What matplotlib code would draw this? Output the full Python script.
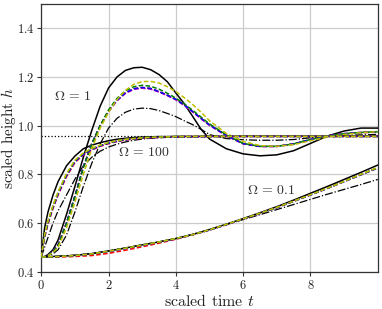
import numpy as np
import matplotlib
matplotlib.use('Agg')
import matplotlib.pyplot as plt

plt.rcParams['font.family'] = 'serif'
plt.rcParams['font.serif'] = ['cmr10']
plt.rcParams['mathtext.fontset'] = 'cm'
plt.rcParams['axes.formatter.use_mathtext'] = True

# время для Omega = 1 и Omega = 100
t_a = [0, 0.1, 0.2, 0.35, 0.5, 0.75, 1.0, 1.25, 1.5, 1.75, 2.0, 2.25, 2.5, 2.75, 3.0,
       3.25, 3.5, 3.75, 4.0, 4.25, 4.5, 4.75, 5.0, 5.5, 6.0, 6.5, 7.0, 7.5, 8.0, 8.5,
       9.0, 9.5, 10.0]

# Omega = 1
w1_black = [0.46, 0.462, 0.47, 0.49, 0.53, 0.635, 0.75, 0.87, 0.98, 1.08, 1.155, 1.2, 1.227,
            1.238, 1.24, 1.23, 1.21, 1.18, 1.134, 1.09, 1.038, 0.985, 0.945, 0.905, 0.884,
            0.876, 0.88, 0.897, 0.927, 0.957, 0.978, 0.99, 0.99]
w1_dashdot = [0.46, 0.461, 0.464, 0.473, 0.49, 0.55, 0.645, 0.75, 0.845, 0.925, 0.99, 1.03,
              1.055, 1.068, 1.072, 1.07, 1.062, 1.05, 1.037, 1.02, 1.004, 0.985, 0.963, 0.947,
              0.942, 0.94, 0.94, 0.943, 0.95, 0.956, 0.96, 0.962, 0.964]
w1_red = [0.46, 0.461, 0.466, 0.482, 0.51, 0.6, 0.71, 0.83, 0.925, 1.0, 1.06, 1.105, 1.135,
          1.152, 1.157, 1.153, 1.14, 1.125, 1.108, 1.085, 1.058, 1.03, 1.003, 0.96, 0.926,
          0.915, 0.915, 0.925, 0.943, 0.958, 0.967, 0.972, 0.974]
w1_magenta = [0.46, 0.461, 0.466, 0.482, 0.51, 0.6, 0.71, 0.83, 0.924, 0.998, 1.057, 1.102,
              1.132, 1.149, 1.154, 1.15, 1.138, 1.123, 1.106, 1.083, 1.056, 1.028, 1.001, 0.958,
              0.925, 0.914, 0.914, 0.924, 0.942, 0.957, 0.966, 0.971, 0.973]
w1_blue = [0.46, 0.461, 0.466, 0.482, 0.51, 0.6, 0.71, 0.83, 0.925, 1.0, 1.06, 1.105, 1.135,
           1.152, 1.157, 1.153, 1.14, 1.125, 1.108, 1.085, 1.058, 1.03, 1.003, 0.96, 0.926,
           0.915, 0.915, 0.925, 0.943, 0.958, 0.967, 0.972, 0.974]
w1_green = [0.46, 0.461, 0.466, 0.481, 0.508, 0.598, 0.708, 0.828, 0.924, 1.0, 1.065, 1.112,
            1.143, 1.16, 1.166, 1.162, 1.15, 1.133, 1.113, 1.09, 1.063, 1.035, 1.007, 0.962,
            0.927, 0.915, 0.915, 0.925, 0.943, 0.958, 0.967, 0.972, 0.975]
w1_yellow = [0.46, 0.461, 0.465, 0.478, 0.5, 0.58, 0.685, 0.8, 0.905, 0.99, 1.055, 1.107, 1.145,
             1.17, 1.181, 1.182, 1.175, 1.16, 1.14, 1.115, 1.087, 1.055, 1.02, 0.968, 0.935,
             0.918, 0.915, 0.922, 0.938, 0.953, 0.964, 0.971, 0.975]

# Omega = 100
w100_black = [0.46, 0.58, 0.645, 0.715, 0.77, 0.835, 0.875, 0.905, 0.92, 0.93, 0.938, 0.944,
              0.948, 0.951, 0.953, 0.954, 0.955, 0.955, 0.956, 0.956, 0.956, 0.956, 0.956,
              0.956, 0.957, 0.957, 0.957, 0.957, 0.957, 0.957, 0.957, 0.957, 0.957]
w100_dashdot = [0.46, 0.5, 0.54, 0.6, 0.65, 0.715, 0.78, 0.835, 0.87, 0.895, 0.912, 0.924,
                0.933, 0.94, 0.945, 0.948, 0.95, 0.952, 0.953, 0.954, 0.954, 0.955, 0.955,
                0.955, 0.955, 0.955, 0.955, 0.955, 0.955, 0.955, 0.955, 0.955, 0.955]
w100_red = [0.46, 0.54, 0.595, 0.66, 0.715, 0.79, 0.848, 0.88, 0.9, 0.915, 0.926, 0.935, 0.941,
            0.945, 0.948, 0.95, 0.952, 0.953, 0.954, 0.955, 0.955, 0.955, 0.956, 0.956, 0.956,
            0.956, 0.956, 0.956, 0.956, 0.956, 0.956, 0.956, 0.956]
w100_magenta = [0.46, 0.545, 0.6, 0.665, 0.72, 0.795, 0.852, 0.882, 0.902, 0.917, 0.928, 0.936,
                0.942, 0.946, 0.949, 0.951, 0.952, 0.953, 0.954, 0.955, 0.955, 0.955, 0.956,
                0.956, 0.956, 0.956, 0.956, 0.956, 0.956, 0.956, 0.956, 0.956, 0.956]
w100_blue = [0.46, 0.545, 0.6, 0.665, 0.72, 0.795, 0.852, 0.882, 0.902, 0.917, 0.928, 0.936,
             0.942, 0.946, 0.949, 0.951, 0.952, 0.953, 0.954, 0.955, 0.955, 0.955, 0.956,
             0.956, 0.956, 0.956, 0.956, 0.956, 0.956, 0.956, 0.956, 0.956, 0.956]
w100_green = [0.46, 0.55, 0.605, 0.67, 0.725, 0.8, 0.856, 0.886, 0.905, 0.919, 0.93, 0.937,
              0.943, 0.947, 0.95, 0.952, 0.953, 0.954, 0.955, 0.955, 0.955, 0.956, 0.956,
              0.956, 0.956, 0.956, 0.956, 0.956, 0.956, 0.956, 0.956, 0.956, 0.956]
w100_yellow = [0.46, 0.552, 0.608, 0.673, 0.728, 0.803, 0.858, 0.888, 0.906, 0.92, 0.931, 0.938,
               0.944, 0.947, 0.95, 0.952, 0.953, 0.954, 0.955, 0.955, 0.956, 0.956, 0.956,
               0.956, 0.956, 0.956, 0.956, 0.956, 0.956, 0.956, 0.956, 0.956, 0.956]

# Omega = 0.1
t_b = [0, 0.5, 1.0, 1.5, 2.0, 2.5, 3.0, 3.5, 4.0, 4.5, 5.0, 5.5, 6.0, 6.5, 7.0, 7.5, 8.0,
       8.5, 9.0, 9.5, 10.0]
w01_black = [0.46, 0.463, 0.467, 0.474, 0.485, 0.497, 0.51, 0.522, 0.536, 0.553, 0.573, 0.595,
             0.618, 0.642, 0.667, 0.694, 0.722, 0.75, 0.779, 0.808, 0.838]
w01_dashdot = [0.46, 0.463, 0.467, 0.474, 0.485, 0.497, 0.51, 0.522, 0.536, 0.553, 0.572, 0.593,
               0.614, 0.634, 0.655, 0.676, 0.697, 0.718, 0.738, 0.758, 0.779]
w01_red = [0.46, 0.46, 0.462, 0.466, 0.475, 0.488, 0.502, 0.517, 0.533, 0.551, 0.571, 0.593,
           0.616, 0.64, 0.664, 0.69, 0.716, 0.743, 0.771, 0.799, 0.827]
w01_magenta = [0.46, 0.462, 0.466, 0.473, 0.483, 0.495, 0.508, 0.521, 0.535, 0.552, 0.571, 0.593,
               0.616, 0.639, 0.663, 0.689, 0.715, 0.742, 0.77, 0.798, 0.826]
w01_blue = [0.46, 0.462, 0.466, 0.473, 0.483, 0.495, 0.508, 0.521, 0.535, 0.552, 0.571, 0.593,
            0.616, 0.639, 0.663, 0.689, 0.715, 0.742, 0.77, 0.798, 0.826]
w01_green = [0.46, 0.462, 0.466, 0.473, 0.484, 0.496, 0.509, 0.522, 0.536, 0.552, 0.572, 0.594,
             0.617, 0.64, 0.664, 0.69, 0.716, 0.743, 0.771, 0.799, 0.827]
w01_yellow = [0.46, 0.462, 0.466, 0.473, 0.484, 0.496, 0.509, 0.522, 0.536, 0.552, 0.572, 0.594,
              0.617, 0.64, 0.664, 0.69, 0.716, 0.743, 0.771, 0.8, 0.828]

h_stat = 0.957

fig = plt.figure(figsize=(3.82, 3.09), dpi=100)
ax = fig.add_axes([0.108, 0.121, 0.881, 0.866])

groups = [
    (t_a, w1_black, w1_dashdot, [w1_red, w1_magenta, w1_blue, w1_green, w1_yellow]),
    (t_a, w100_black, w100_dashdot, [w100_red, w100_magenta, w100_blue, w100_green, w100_yellow]),
    (t_b, w01_black, w01_dashdot, [w01_red, w01_magenta, w01_blue, w01_green, w01_yellow]),
]
cols = ['r', 'm', 'b', 'g', 'y']

for t, hb, hd, hc in groups:
    ax.plot(t, hb, color='k', lw=1.1, zorder=3)
    ax.plot(t, hd, color='k', lw=0.9, ls='-.', zorder=3)
    for h, c in zip(hc, cols):
        ax.plot(t, h, color=c, lw=1.1, ls='--', dashes=(3, 1.5), zorder=4)

ax.axhline(h_stat, color='k', lw=0.9, ls=':', zorder=2)

ax.text(0.95, 1.12, r'$\Omega\,=\,1$', ha='center', va='center', fontsize=10, color='#333333')
ax.text(3.06, 0.888, r'$\Omega\,=\,100$', ha='center', va='center', fontsize=10, color='#333333')
ax.text(6.82, 0.735, r'$\Omega\,=\,0.1$', ha='center', va='center', fontsize=10, color='#333333')

ax.set_xlim(0, 10)
ax.set_ylim(0.4, 1.5)
ax.set_xticks([0, 2, 4, 6, 8])
ax.set_yticks([0.4, 0.6, 0.8, 1.0, 1.2, 1.4])
ax.grid(True, color='#cccccc', lw=0.9)
ax.set_axisbelow(True)
for s in ax.spines.values():
    s.set_color('#333333')
    s.set_linewidth(0.9)
ax.tick_params(labelsize=9, length=3, width=0.8, color='#333333', labelcolor='#222222', pad=2)
ax.set_xlabel(r'scaled time $t$', fontsize=11.5, color='#222222', labelpad=1)
ax.set_ylabel(r'scaled height $h$', fontsize=11, color='#222222')
ax.yaxis.set_label_coords(-0.068, 0.5)

fig.savefig('out.png', dpi=100)
